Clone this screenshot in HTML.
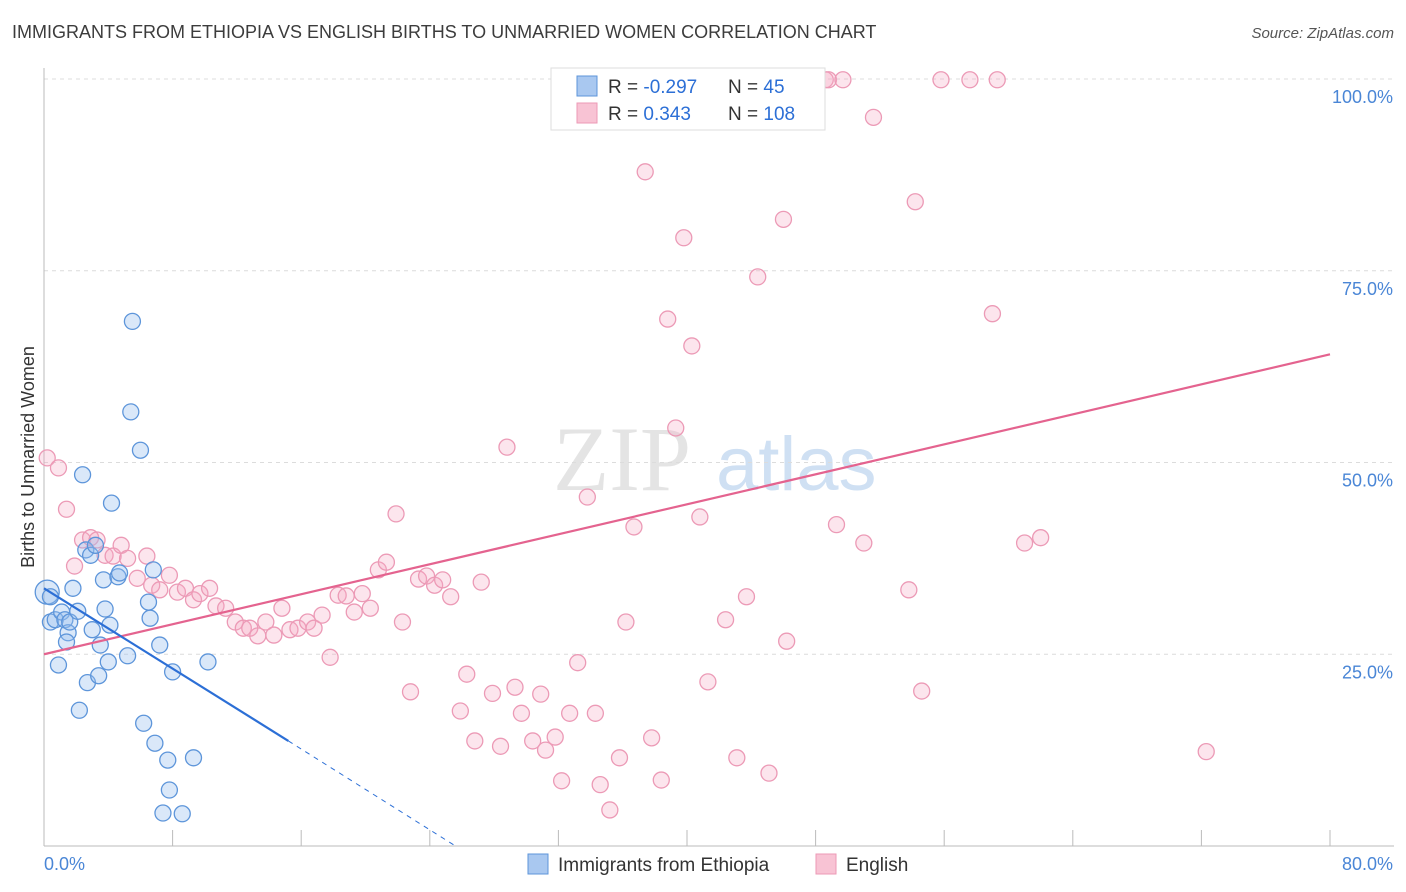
<!DOCTYPE html>
<html><head><meta charset="utf-8"><style>
body{margin:0;background:#fff;font-family:"Liberation Sans",sans-serif;}
#wrap{position:relative;width:1406px;height:892px;overflow:hidden;}
.t{position:absolute;white-space:nowrap;}
</style></head><body>
<div id="wrap">
<div class="t" style="left:12px;top:22px;font-size:18px;color:#3c3c3c;">IMMIGRANTS FROM ETHIOPIA VS ENGLISH BIRTHS TO UNMARRIED WOMEN CORRELATION CHART</div>
<div class="t" style="right:12px;top:25px;font-size:15px;color:#555;font-style:italic;">Source: ZipAtlas.com</div>
<svg id="svg" width="1406" height="892" style="position:absolute;left:0;top:0"></svg>
</div>
<script>
const yTicks=[25,50,75,100];
const yTickLabels=["25.0%","50.0%","75.0%","100.0%"];
const xTickVals=[0,8,16,24,32,40,48,56,64,72,80];
const blueX=[0.2,0.4,0.4,0.7,0.9,1.1,1.3,1.5,1.6,1.4,1.8,2.1,2.2,2.4,2.6,2.7,2.9,3.0,3.2,3.4,3.5,3.7,3.8,4.0,4.1,4.2,4.6,4.7,5.2,5.4,5.5,6.0,6.2,6.5,6.6,6.8,6.9,7.2,7.4,7.7,7.8,8.0,8.6,9.3,10.2];
const blueY=[33.1,32.5,29.2,29.5,23.6,30.5,29.5,27.8,29.2,26.6,33.6,30.6,17.7,48.4,38.6,21.3,37.9,28.2,39.2,22.2,26.2,34.7,30.9,24.0,28.8,44.7,35.1,35.6,24.8,56.6,68.4,51.6,16.0,31.8,29.7,36.0,13.4,26.2,4.3,11.2,7.3,22.7,4.2,11.5,24.0];
const pinkX=[0.2,0.9,1.4,1.9,2.4,2.9,3.3,3.8,4.3,4.8,5.2,5.8,6.4,6.7,7.2,7.8,8.3,8.8,9.3,9.7,10.3,10.7,11.3,11.9,12.4,12.8,13.3,13.8,14.3,14.8,15.3,15.8,16.4,16.8,17.3,17.8,18.3,18.8,19.3,19.8,20.3,20.8,21.3,21.9,22.3,22.8,23.3,23.8,24.3,24.8,25.3,25.9,26.3,26.8,27.2,27.9,28.4,28.8,29.3,29.7,30.4,30.9,31.2,31.8,32.2,32.7,33.2,33.8,34.3,34.6,35.2,35.8,36.2,36.7,37.4,37.8,38.4,38.8,39.3,39.8,40.3,40.8,41.3,41.9,42.4,43.1,43.7,44.4,45.1,46.0,46.2,48.6,48.8,49.7,49.3,51.0,51.6,53.8,54.2,54.6,55.8,57.6,59.0,59.3,61.0,62.0,72.3];
const pinkY=[50.6,49.3,43.9,36.5,39.9,40.2,39.9,37.9,37.8,39.2,37.5,34.9,37.8,34.0,33.4,35.3,33.1,33.6,32.1,32.9,33.6,31.3,31.0,29.2,28.4,28.4,27.4,29.2,27.5,31.0,28.2,28.4,29.2,28.4,30.1,24.6,32.7,32.6,30.5,32.9,31.0,36.0,37.0,43.3,29.2,20.1,34.8,35.2,34.0,34.7,32.5,17.6,22.4,13.7,34.4,19.9,13.0,52.0,20.7,17.3,13.7,19.8,12.5,14.2,8.5,17.3,23.9,45.5,17.3,8.0,4.7,11.5,29.2,41.6,87.9,14.1,8.6,68.7,54.5,79.3,65.2,42.9,21.4,99.9,29.5,11.5,32.5,74.2,9.5,81.7,26.7,99.9,99.9,99.9,41.9,39.5,95.0,33.4,84.0,20.2,99.9,99.9,69.4,99.9,39.5,40.2,12.3];
const blueTrendX=[0,15.2,25.6];
const blueTrendY=[33.6,13.7,0];
const pinkTrendX=[0,80];
const pinkTrendY=[25.0,64.1];

const X0=44,X1=1330,Y0=846,Y100=79;
const sx=v=>X0+(X1-X0)*v/80;
const sy=v=>Y0-(Y0-Y100)*v/100;
const svg=document.getElementById('svg');
const NS='http://www.w3.org/2000/svg';
function mk(tag,attrs){const e=document.createElementNS(NS,tag);for(const k in attrs)e.setAttribute(k,attrs[k]);svg.appendChild(e);return e;}

// watermark
let wm=mk('text',{x:553,y:490,'font-size':92,'font-family':'Liberation Serif, serif',fill:'#e4e4e4'});
wm.textContent='ZIP';


let wm2=mk('text',{x:716,y:490,'font-size':76,'font-family':'Liberation Sans, sans-serif',fill:'#cfe0f3'});
wm2.textContent='atlas';



// gridlines + y labels
yTicks.forEach((v,i)=>{
  const g=mk('line',{x1:X0,x2:1394,y1:sy(v),y2:sy(v),stroke:'#dcdcdc','stroke-dasharray':'4,4'});
  
  
  const t=mk('text',{x:1393,y:sy(v)+24,'text-anchor':'end','font-size':18,fill:'#4a86d6','font-family':'Liberation Sans, sans-serif'});
  t.textContent=yTickLabels[i];
  
  
});
// axes
let ax=mk('line',{x1:X0,x2:1394,y1:Y0,y2:Y0,stroke:'#bbb'});


let ay=mk('line',{x1:X0,x2:X0,y1:68,y2:Y0,stroke:'#bbb'});


xTickVals.forEach(v=>{
  const l=mk('line',{x1:sx(v),x2:sx(v),y1:Y0,y2:Y0-16,stroke:'#bbb'});
  
  
});
let xl0=mk('text',{x:44,y:870,'font-size':18,fill:'#4a86d6'});xl0.textContent='0.0%';


let xl1=mk('text',{x:1393,y:870,'font-size':18,fill:'#4a86d6','text-anchor':'end'});xl1.textContent='80.0%';


let yt=mk('text',{x:0,y:0,'font-size':18,fill:'#333',transform:'translate(34,457) rotate(-90)','text-anchor':'middle'});
yt.textContent='Births to Unmarried Women';



// points
pinkX.forEach((x,i)=>{
  const c=mk('circle',{cx:sx(x),cy:sy(pinkY[i]),r:8,fill:'rgba(244,170,195,0.3)',stroke:'#ec9ab6','stroke-width':1.3});
  
  
});
blueX.forEach((x,i)=>{
  const c=mk('circle',{cx:sx(x),cy:sy(blueY[i]),r:i===0?12:8,fill:'rgba(150,190,238,0.35)',stroke:'#5d95da','stroke-width':1.3});
  
  
});
// trends
let pt=mk('line',{x1:sx(pinkTrendX[0]),y1:sy(pinkTrendY[0]),x2:sx(pinkTrendX[1]),y2:sy(pinkTrendY[1]),stroke:'#e4638f','stroke-width':2.2});


let bt=mk('line',{x1:sx(blueTrendX[0]),y1:sy(blueTrendY[0]),x2:sx(blueTrendX[1]),y2:sy(blueTrendY[1]),stroke:'#2c6fd6','stroke-width':2.2});


let bd=mk('line',{x1:sx(blueTrendX[1]),y1:sy(blueTrendY[1]),x2:sx(blueTrendX[2]),y2:sy(blueTrendY[2]),stroke:'#2c6fd6','stroke-width':1,'stroke-dasharray':'5,5'});



// legend
let lb=mk('rect',{x:551,y:68,width:274,height:62,fill:'#fff',stroke:'#ddd'});


const rows=[['#a9c8f0','#5d95da','-0.297','45'],['#f8c3d4','#ec9ab6','0.343','108']];
rows.forEach((r,i)=>{
  const y=86+i*27;
  const s=mk('rect',{x:577,y:y-10,width:20,height:20,fill:r[0],stroke:r[1]});
  
  
  const t=mk('text',{x:608,y:y+7,'font-size':19,fill:'#333'});
  t.innerHTML='R = <tspan fill="#2c6fd6">'+(i===0?'':' ')+r[2]+'</tspan>';
  
  
  const n=mk('text',{x:728,y:y+7,'font-size':19,fill:'#333'});
  n.innerHTML='N = <tspan fill="#2c6fd6">'+(i===0?'  ':'')+r[3]+'</tspan>';
  n.setAttribute('xml:space','preserve');
  
  
});
// bottom legend
[['#a9c8f0','#5d95da','Immigrants from Ethiopia',528],['#f8c3d4','#ec9ab6','English',816]].forEach(r=>{
  const s=mk('rect',{x:r[3],y:854,width:20,height:20,fill:r[0],stroke:r[1]});
  
  
  const t=mk('text',{x:r[3]+30,y:871,'font-size':19,fill:'#333'});
  t.textContent=r[2];
  
  
});
</script>
</body></html>
